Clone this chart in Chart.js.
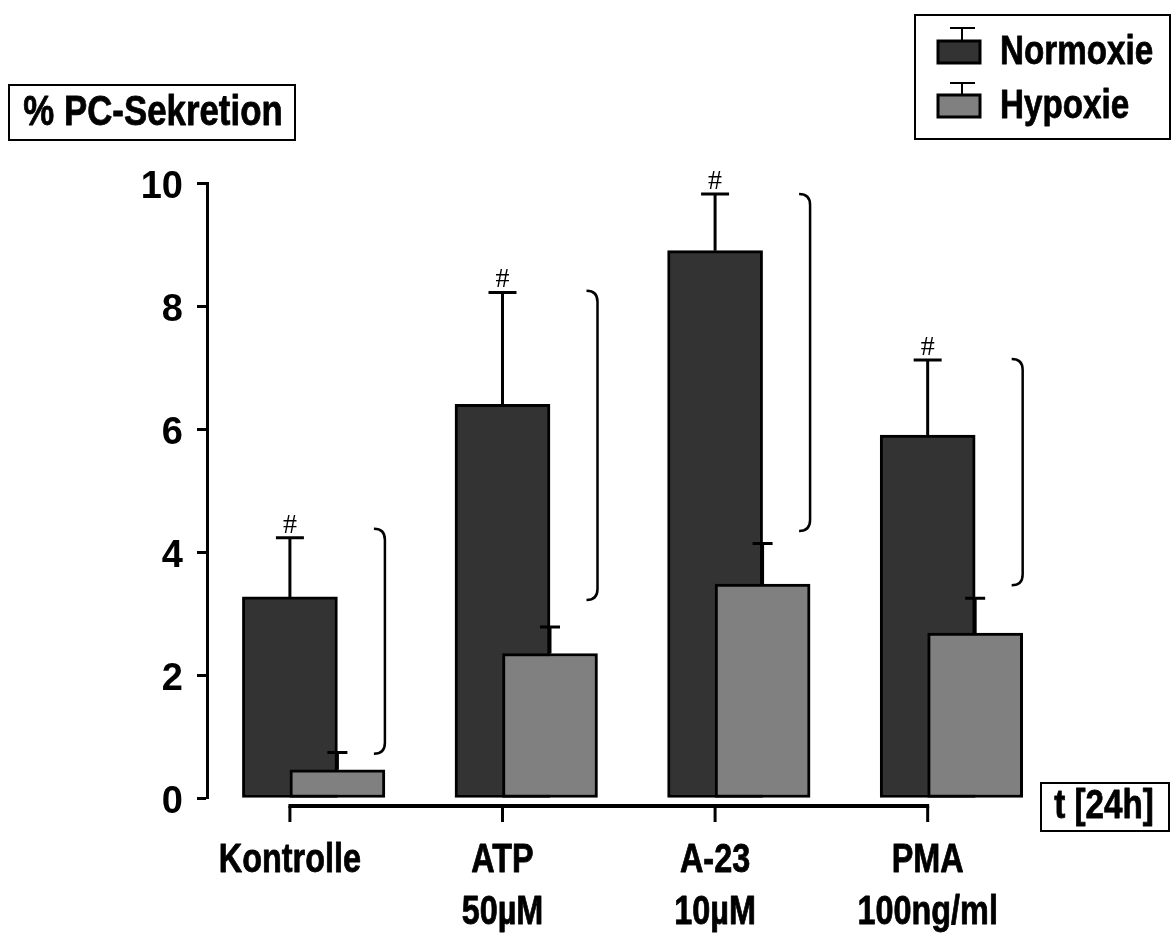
<!DOCTYPE html>
<html>
<head>
<meta charset="utf-8">
<script src="https://cdn.jsdelivr.net/npm/chart.js@4/dist/chart.umd.min.js"></script>
<style>
  html, body { margin: 0; padding: 0; background: #ffffff; }
  #wrap { width: 1173px; height: 933px; position: relative; }
</style>
</head>
<body>
<div id="wrap"><canvas id="chart" width="1173" height="933"></canvas></div>
<script>
// Treatment groups (first line = substance, second line = concentration)
const categories = [['Kontrolle'], ['ATP', '50µM'], ['A-23', '10µM'], ['PMA', '100ng/ml']];

// Mean PC secretion (%) and upper error (SD) per group
const normoxie    = [3.27, 6.40, 8.90, 5.90];
const normoxieErr = [0.96, 1.82, 0.92, 1.22];
const hypoxie     = [0.46, 2.35, 3.48, 2.68];
const hypoxieErr  = [0.28, 0.43, 0.66, 0.57];

// Significance marks above the normoxia bars
const signifMarks = ['#', '#', '#', '#'];

// Brackets linking normoxia and hypoxia of each group (value range on y)
const bracketTop    = [4.38, 8.25, 9.82, 7.14];
const bracketBottom = [0.72, 3.22, 4.34, 3.46];

const yTickValues = [0, 2, 4, 6, 8, 10];
const seriesNames = ['Normoxie', 'Hypoxie'];

const COLORS = { dark: '#333333', grey: '#808080', line: '#000000' };
const BAR_W = 95;
const FONT = '"Liberation Sans", Arial, sans-serif';

// heavy bold text compressed horizontally (narrow face look)
function squeezedText(ctx, text, x, y, size, align, squeeze) {
  ctx.save();
  ctx.font = 'bold ' + size + 'px ' + FONT;
  ctx.fillStyle = '#000';
  ctx.strokeStyle = '#000';
  ctx.lineWidth = 0.8;
  ctx.lineJoin = 'round';
  ctx.textBaseline = 'middle';
  const w = ctx.measureText(text).width * squeeze;
  let left = x;
  if (align === 'center') left = x - w / 2;
  else if (align === 'right') left = x - w;
  ctx.translate(left, y);
  ctx.scale(squeeze, 1);
  ctx.textAlign = 'left';
  ctx.fillText(text, 0, 0);
  ctx.strokeText(text, 0, 0);
  ctx.restore();
  return w;
}

const decorations = {
  id: 'decorations',
  afterDatasetsDraw(chart) {
    const ctx = chart.ctx;
    const xs = chart.scales.x, xh = chart.scales.xh, ys = chart.scales.y;
    const area = chart.chartArea;
    ctx.save();
    ctx.strokeStyle = COLORS.line;
    ctx.lineCap = 'butt';

    // error bars (upper only), significance marks and brackets
    categories.forEach((c, i) => {
      const xn = xs.getPixelForValue(i);
      const yn0 = ys.getPixelForValue(normoxie[i]);
      const yn1 = ys.getPixelForValue(normoxie[i] + normoxieErr[i]);
      ctx.lineWidth = 3;
      ctx.beginPath();
      ctx.moveTo(xn, yn0); ctx.lineTo(xn, yn1);
      ctx.moveTo(xn - 14, yn1); ctx.lineTo(xn + 14, yn1);
      ctx.stroke();

      ctx.font = '28px "Liberation Serif", "Times New Roman", serif';
      ctx.fillStyle = '#000';
      ctx.textAlign = 'center';
      ctx.textBaseline = 'alphabetic';
      ctx.fillText(signifMarks[i], xn, yn1 - 5);

      const xg = xh.getPixelForValue(i);
      const yg0 = ys.getPixelForValue(hypoxie[i]);
      const yg1 = ys.getPixelForValue(hypoxie[i] + hypoxieErr[i]);
      ctx.beginPath();
      ctx.moveTo(xg, yg0); ctx.lineTo(xg, yg1);
      ctx.moveTo(xg - 10, yg1); ctx.lineTo(xg + 10, yg1);
      ctx.stroke();

      const bx = xg + BAR_W / 2;
      const bt = ys.getPixelForValue(bracketTop[i]);
      const bb = ys.getPixelForValue(bracketBottom[i]);
      const r = 11;
      ctx.lineWidth = 2.5;
      ctx.beginPath();
      ctx.moveTo(bx - r, bt);
      ctx.quadraticCurveTo(bx, bt, bx, bt + r);
      ctx.lineTo(bx, bb - r);
      ctx.quadraticCurveTo(bx, bb, bx - r, bb);
      ctx.stroke();
    });

    // category axis: line between first and last group, ticks below
    const axY = area.bottom + 8;
    const x0 = xs.getPixelForValue(0), x3 = xs.getPixelForValue(categories.length - 1);
    ctx.lineWidth = 4;
    ctx.beginPath();
    ctx.moveTo(x0 - 1.5, axY); ctx.lineTo(x3 + 1.5, axY);
    ctx.stroke();
    ctx.lineWidth = 3;
    categories.forEach((c, i) => {
      const x = xs.getPixelForValue(i);
      ctx.beginPath();
      ctx.moveTo(x, axY); ctx.lineTo(x, axY + 16);
      ctx.stroke();
      c.forEach((line, k) => {
        squeezedText(ctx, line, x, 861 + k * 52, 40, 'center', 0.81);
      });
    });

    // axis unit box
    ctx.lineWidth = 2;
    ctx.strokeRect(1041, 783, 128, 48);
    squeezedText(ctx, 't [24h]', 1104, 807, 41, 'center', 0.81);

    // y title box
    ctx.lineWidth = 2;
    ctx.strokeRect(9, 85, 286, 55);
    squeezedText(ctx, '% PC-Sekretion', 153, 113, 43, 'center', 0.81);

    // legend
    ctx.lineWidth = 2;
    ctx.strokeRect(915, 15, 255, 124);
    const legendRows = [
      { name: seriesNames[0], fill: COLORS.dark, y: 52, capY: 28 },
      { name: seriesNames[1], fill: COLORS.grey, y: 106, capY: 83 }
    ];
    legendRows.forEach(row => {
      ctx.lineWidth = 3;
      ctx.fillStyle = row.fill;
      ctx.fillRect(938, row.y - 11, 42, 22);
      ctx.strokeRect(938, row.y - 11, 42, 22);
      ctx.lineWidth = 2;
      ctx.beginPath();
      ctx.moveTo(962, row.y - 11); ctx.lineTo(962, row.capY);
      ctx.moveTo(950, row.capY); ctx.lineTo(975, row.capY);
      ctx.stroke();
      squeezedText(ctx, row.name, 1000, row.y + 1, 41, 'left', 0.81);
    });
    ctx.restore();
  }
};

const X_MIN = -0.39, X_MAX = 3.9;
const HYP_SHIFT = BAR_W / 2;   // hypoxia bar sits half a bar to the right

new Chart(document.getElementById('chart'), {
  type: 'bar',
  data: {
    datasets: [
      {
        label: seriesNames[1],
        data: hypoxie.map((v, i) => ({ x: i, y: v })),
        xAxisID: 'xh',
        backgroundColor: COLORS.grey,
        borderColor: COLORS.line,
        borderWidth: 3,
        borderSkipped: false,
        barThickness: BAR_W,
        grouped: false,
        order: 0
      },
      {
        label: seriesNames[0],
        data: normoxie.map((v, i) => ({ x: i, y: v })),
        xAxisID: 'x',
        backgroundColor: COLORS.dark,
        borderColor: COLORS.line,
        borderWidth: 3,
        borderSkipped: false,
        barThickness: BAR_W,
        grouped: false,
        order: 1
      }
    ]
  },
  options: {
    responsive: false,
    animation: false,
    devicePixelRatio: 1,
    layout: { padding: { left: 0, top: 183, right: 54, bottom: 135 } },
    plugins: { legend: { display: false }, tooltip: { enabled: false } },
    scales: {
      x: { type: 'linear', min: X_MIN, max: X_MAX, offset: false, display: false },
      xh: {
        type: 'linear', display: false, offset: false,
        min: X_MIN, max: X_MAX,
        afterUpdate(s) {
          // same spacing as x, moved right by half a bar width
          const px = (s.right - s.left) / (X_MAX - X_MIN);
          const d = HYP_SHIFT / px;
          s.min = X_MIN - d; s.max = X_MAX - d;
          s.configure();
        }
      },
      y: {
        min: 0, max: 10,
        afterBuildTicks(s) { s.ticks = yTickValues.map(v => ({ value: v })); },
        afterFit(s) { s.width = 207; },
        border: { display: true, color: '#000', width: 3 },
        grid: { display: true, drawOnChartArea: false, drawTicks: true, tickLength: 10, tickWidth: 3, tickColor: '#000' },
        ticks: {
          color: '#000',
          padding: 14,
          labelOffset: 5,
          font: { family: FONT, size: 38, weight: 'bold' }
        }
      }
    }
  },
  plugins: [decorations]
});
</script>
</body>
</html>
